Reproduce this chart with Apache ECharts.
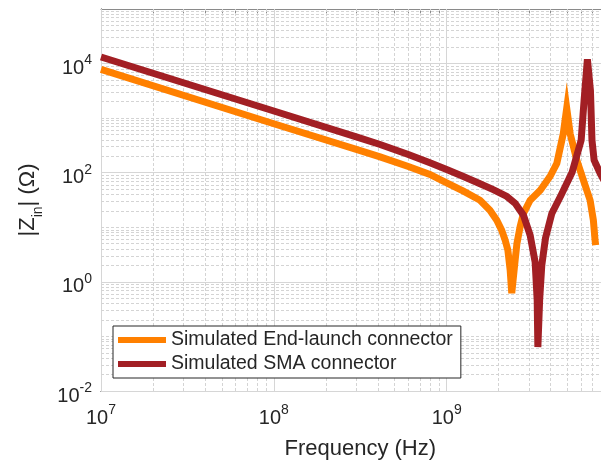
<!DOCTYPE html>
<html>
<head>
<meta charset="utf-8">
<script src="https://cdn.jsdelivr.net/npm/echarts@6/dist/echarts.min.js"></script>
<style>
  html, body { margin: 0; padding: 0; background: #fff; }
  #chart { width: 601px; height: 467px; }
</style>
</head>
<body>
<div id="chart"></div>
<script>
// (Hz, Ohm)
const endLaunchFreq = [1e7, 1e8, 3e8, 4.12e8, 6e8, 8e8, 1e9, 1.25e9, 1.56e9, 1.78e9, 1.95e9, 2.08e9, 2.18e9, 2.26e9, 2.33e9, 2.38e9,
  2.49e9, 2.55e9, 2.66e9, 2.78e9, 3.04e9, 3.48e9, 3.97e9, 4.34e9, 4.73e9, 4.95e9,
  5.18e9, 5.66e9, 6.18e9, 6.76e9, 7.06e9, 7.22e9, 7.28e9]
const endLaunchZ = [7800, 790, 267, 195, 130, 93, 65, 45.8, 31.3, 20.6, 13.5, 8.85, 5.8, 3.81, 1.64, 0.62,
  2.5, 5.05, 10.2, 17.9, 31.3, 47.9, 86, 149, 522, 1518,
  522, 170, 73, 31.3, 13.5, 5.8, 4.7]
const smaFreq = [1e7, 1e8, 3e8, 4.12e8, 6e8, 8e8, 1e9, 1.25e9, 1.56e9, 1.86e9, 2.23e9, 2.49e9, 2.78e9, 3.04e9, 3.25e9, 3.34e9, 3.37e9,
  3.45e9, 3.55e9, 3.73e9, 4.06e9, 4.59e9, 5.32e9, 6.0e9, 6.24e9, 6.52e9,
  6.79e9, 6.93e9, 7.13e9, 7.73e9, 9.44e9]
const smaZ = [13200, 1350, 455, 329, 216, 152, 114, 85, 63, 49, 36.7, 27.5, 16.7, 7.2, 2.3, 0.46, 0.064,
  0.46, 2.0, 6.3, 17.9, 38.7, 102, 394, 2130, 12000,
  3200, 394, 170, 97, 31]

const seriesNames = ['Simulated End-launch connector', 'Simulated SMA connector']
const xDecades = [7, 8, 9]
const yLabelExps = [-2, 0, 2, 4]
const yDecades = [-2, -1, 0, 1, 2, 3, 4]

const axisColor = '#262626'
const font = '"Liberation Sans", Arial, Helvetica, sans-serif'

function pairs(xs, ys) {
  return xs.map((x, i) => [x, ys[i]])
}

// grid lines (major solid, minor dotted) as mark lines in data space
const majorStyle = { color: '#d6d6d6', width: 1, type: 'solid' }
const minorStyle = { color: '#d4d4d4', width: 1, type: [3, 2] }
const gridLines = []
const xMinor = []
xDecades.forEach(d => {
  gridLines.push({ xAxis: Math.pow(10, d), lineStyle: majorStyle })
  for (let k = 2; k <= 9; k++) {
    gridLines.push({ xAxis: k * Math.pow(10, d), lineStyle: minorStyle })
    xMinor.push(k * Math.pow(10, d))
  }
})
const yMinor = []
yDecades.forEach(d => {
  const major = yLabelExps.indexOf(d) >= 0
  gridLines.push({ yAxis: Math.pow(10, d), lineStyle: major ? majorStyle : minorStyle })
  if (!major) yMinor.push(Math.pow(10, d))
  for (let k = 2; k <= 9; k++) {
    gridLines.push({ yAxis: k * Math.pow(10, d), lineStyle: minorStyle })
    yMinor.push(k * Math.pow(10, d))
  }
})

const powRich = {
  b: { fontSize: 20, fontFamily: font, color: axisColor, lineHeight: 20, verticalAlign: 'top', padding: [5, 0, 0, 0] },
  s: { fontSize: 14, fontFamily: font, color: axisColor, lineHeight: 14, verticalAlign: 'top' }
}
function powLabel(v) {
  const e = Math.round(Math.log10(v))
  return '{b|10}{s|' + e + '}'
}

const chart = echarts.init(document.getElementById('chart'))
chart.setOption({
  animation: false,
  backgroundColor: '#fff',
  // axes run on to 1e10, just past the right edge of the picture
  grid: { left: 101, top: 9, right: -18.5, bottom: 76, outerBoundsMode: 'none', containLabel: false },
  legend: {
    data: seriesNames,
    orient: 'vertical',
    left: 113,
    top: 326,
    icon: 'rect',
    itemWidth: 48,
    itemHeight: 6,
    itemGap: 4,
    padding: [4, 8, 4, 5],
    backgroundColor: '#fff',
    borderColor: axisColor,
    borderWidth: 1,
    textStyle: { fontSize: 19.5, fontFamily: font, color: axisColor, lineHeight: 20 }
  },
  xAxis: [
    {
      type: 'log',
      logBase: 10,
      min: 1e7,
      max: 1e10,
      position: 'bottom',
      name: 'Frequency (Hz)',
      nameLocation: 'middle',
      nameGap: 47,
      nameTextStyle: { fontSize: 22, fontFamily: font, color: axisColor },
      axisLine: { lineStyle: { color: axisColor, width: 1 } },
      axisTick: { inside: true, length: 6, lineStyle: { color: axisColor } },
      axisLabel: { margin: 12, formatter: powLabel, rich: powRich },
      splitLine: { show: false }
    },
    {
      type: 'log',
      logBase: 10,
      min: 1e7,
      max: 1e10,
      position: 'bottom',
      axisLine: { show: false },
      axisTick: { inside: true, length: 3, customValues: xMinor, lineStyle: { color: axisColor } },
      axisLabel: { show: false },
      splitLine: { show: false }
    },
    {
      type: 'log',
      logBase: 10,
      min: 1e7,
      max: 1e10,
      position: 'top',
      axisLine: { lineStyle: { color: '#8a8a8a', width: 1 } },
      axisTick: { inside: true, length: 4, customValues: xMinor.concat([1e7, 1e8, 1e9]), lineStyle: { color: '#8a8a8a' } },
      axisLabel: { show: false },
      splitLine: { show: false }
    }
  ],
  yAxis: [
    {
      type: 'log',
      logBase: 10,
      min: 1e-2,
      max: 1e5,
      position: 'left',
      name: '{t||Z}{s|in}{t|| (Ω)}',
      nameLocation: 'middle',
      nameRotate: 90,
      nameGap: 62,
      nameTextStyle: {
        rich: {
          t: { fontSize: 22, fontFamily: font, color: axisColor, lineHeight: 22, verticalAlign: 'top' },
          s: { fontSize: 14, fontFamily: font, color: axisColor, lineHeight: 14, verticalAlign: 'top', padding: [14, 0, 0, 0] }
        }
      },
      axisLine: { lineStyle: { color: axisColor, width: 1 } },
      axisTick: { inside: true, length: 6, customValues: yLabelExps.map(e => Math.pow(10, e)), lineStyle: { color: axisColor } },
      axisLabel: {
        margin: 9,
        customValues: yLabelExps.map(e => Math.pow(10, e)),
        formatter: powLabel,
        rich: powRich
      },
      splitLine: { show: false }
    },
    {
      type: 'log',
      logBase: 10,
      min: 1e-2,
      max: 1e5,
      position: 'left',
      axisLine: { show: false },
      axisTick: { inside: true, length: 3, customValues: yMinor, lineStyle: { color: axisColor } },
      axisLabel: { show: false },
      splitLine: { show: false }
    }
  ],
  series: [
    {
      name: 'grid',
      type: 'line',
      data: [],
      z: 1,
      silent: true,
      markLine: {
        silent: true,
        z: 1,
        symbol: ['none', 'none'],
        label: { show: false },
        emphasis: { disabled: true },
        data: gridLines
      }
    },
    {
      name: seriesNames[0],
      type: 'line',
      data: pairs(endLaunchFreq, endLaunchZ),
      showSymbol: false,
      z: 3,
      itemStyle: { color: '#FF8000' },
      lineStyle: { color: '#FF8000', width: 7, join: 'miter', cap: 'butt' }
    },
    {
      name: seriesNames[1],
      type: 'line',
      data: pairs(smaFreq, smaZ),
      showSymbol: false,
      z: 3,
      itemStyle: { color: '#A21F24' },
      lineStyle: { color: '#A21F24', width: 7, join: 'miter', cap: 'butt' }
    }
  ]
})
window.addEventListener('resize', () => chart.resize())
</script>
</body>
</html>
